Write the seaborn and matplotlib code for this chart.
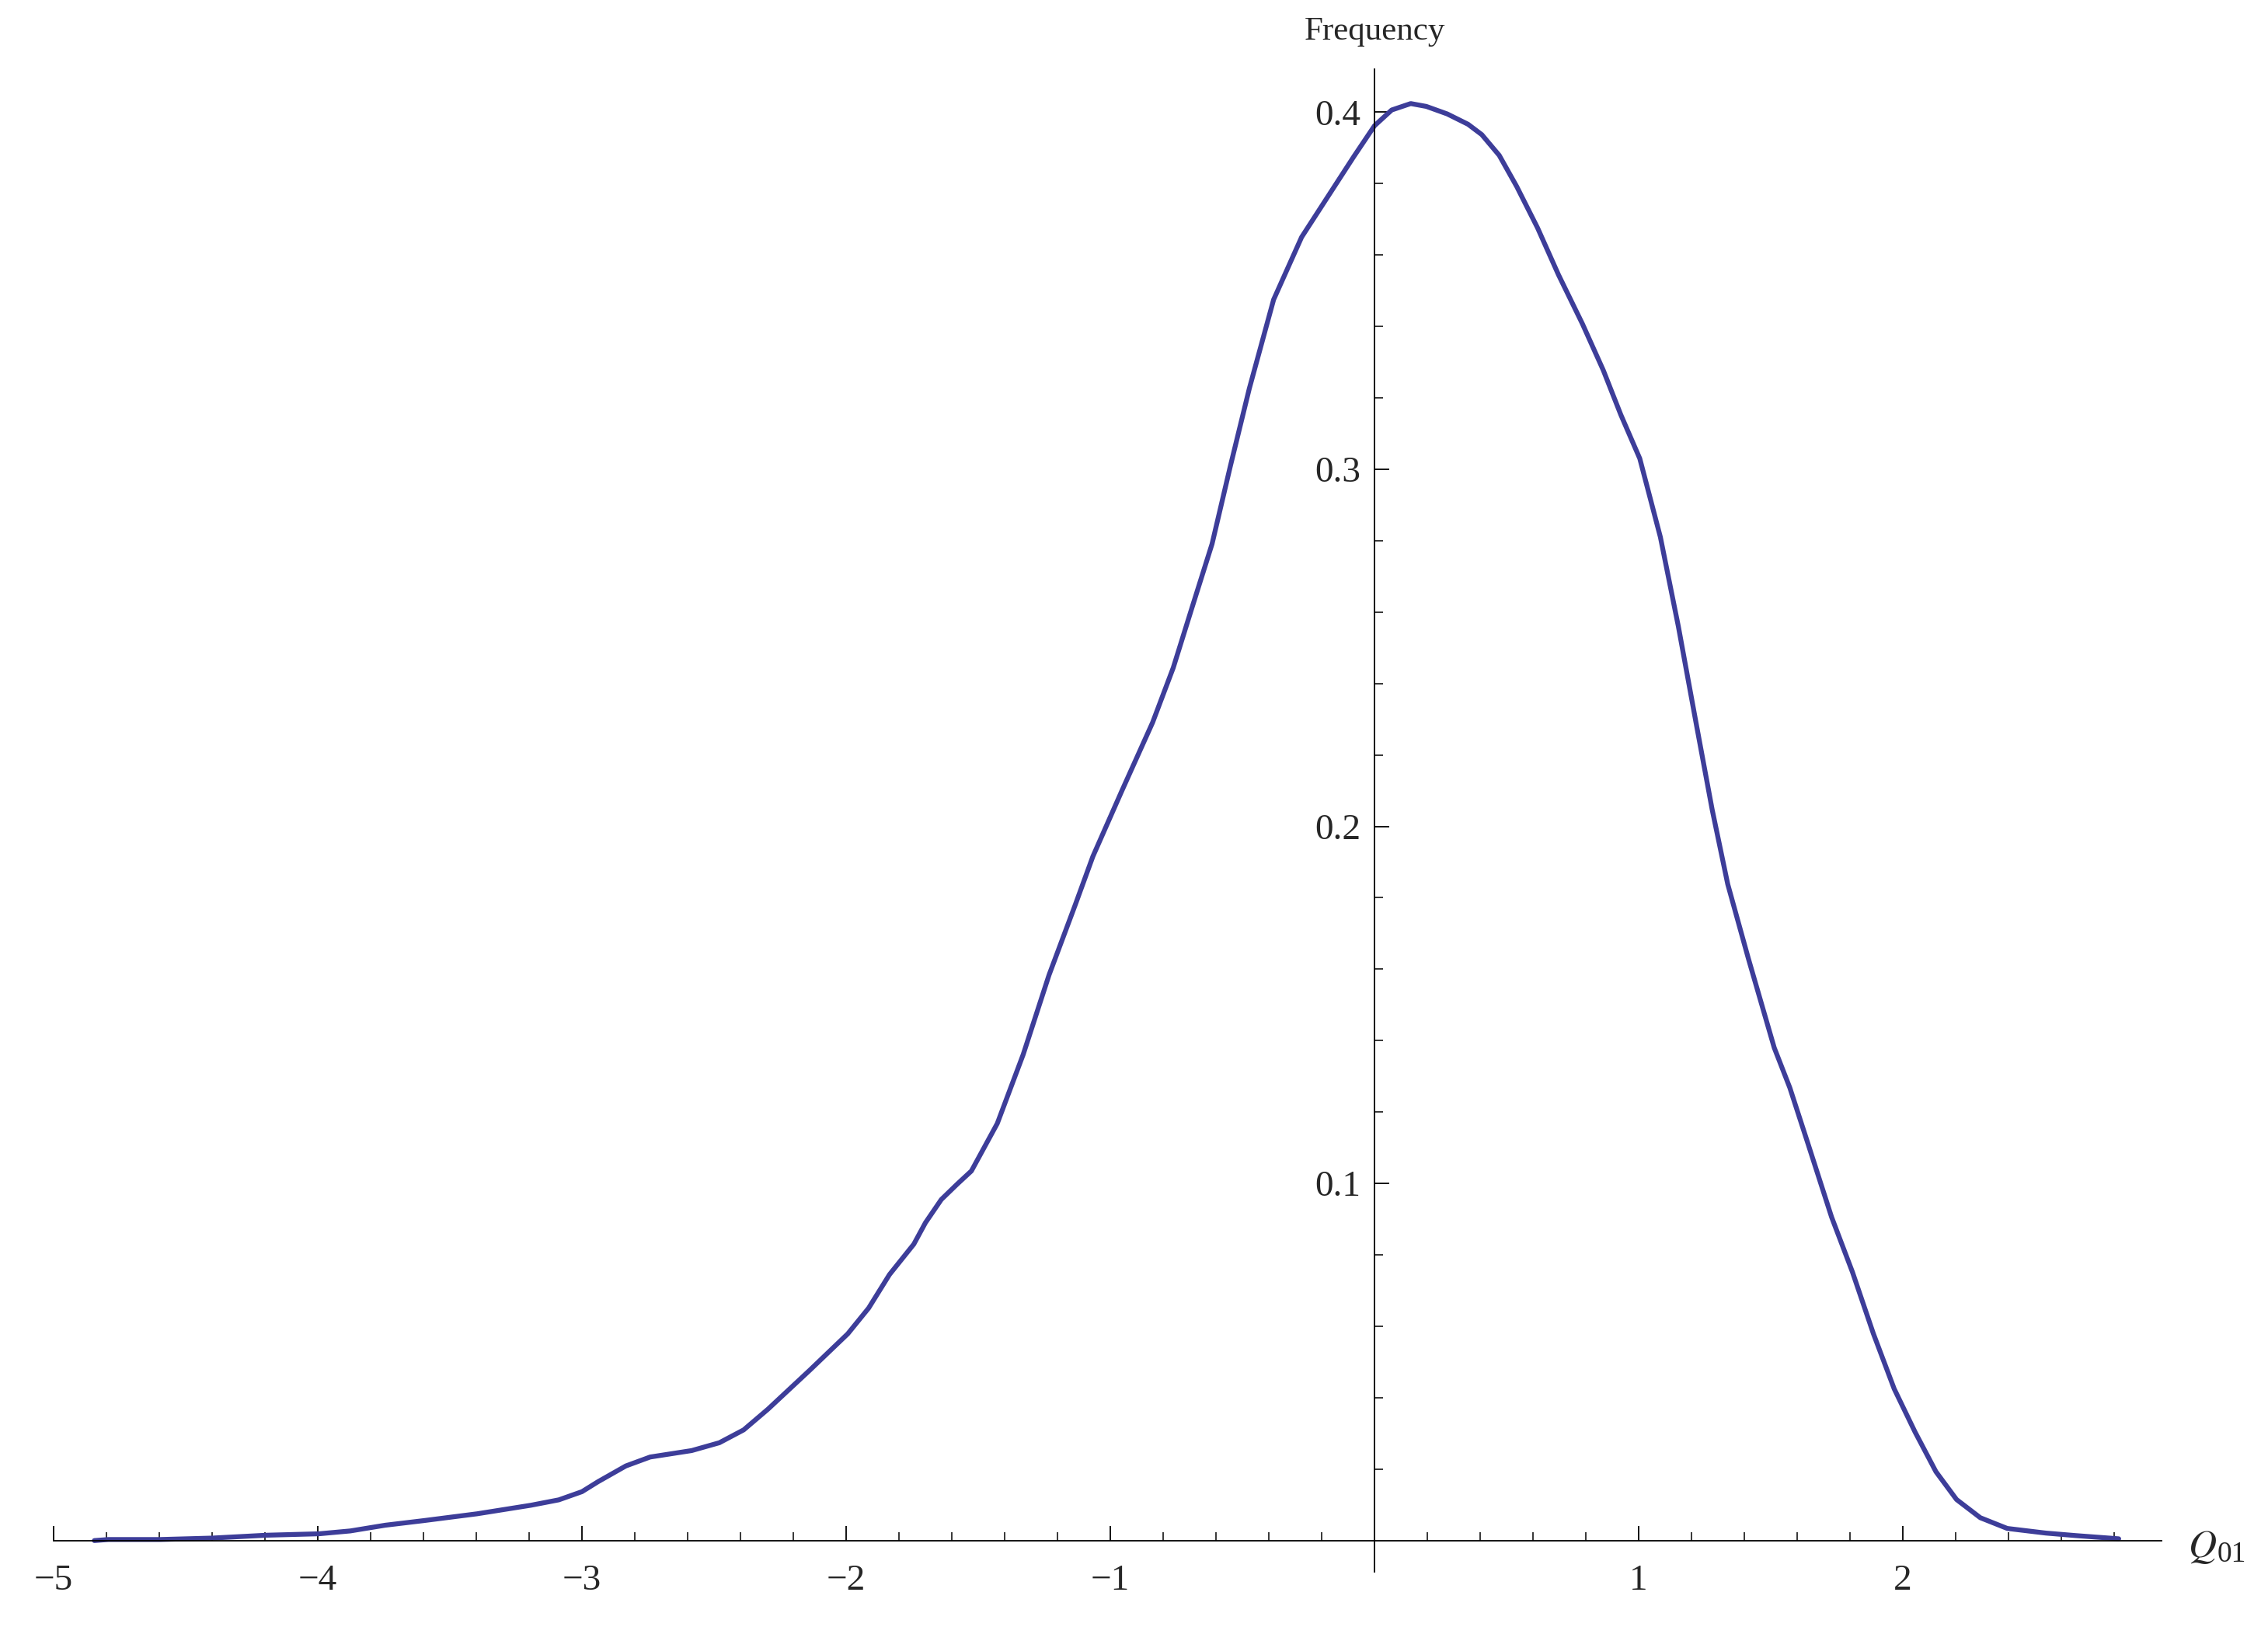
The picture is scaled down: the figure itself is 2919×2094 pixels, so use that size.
import numpy as np
import pandas as pd
import seaborn as sns
import matplotlib.pyplot as plt
from matplotlib.ticker import FixedLocator

# density curve
q01 = [-4.846, -4.793, -4.597, -4.400, -4.196, -3.996, -3.877, -3.745, -3.598, -3.397,
       -3.193, -3.088, -3.000, -2.939, -2.834, -2.742, -2.585, -2.480, -2.388, -2.296,
       -2.138, -1.994, -1.915, -1.836, -1.744, -1.700, -1.640, -1.580, -1.526, -1.428,
       -1.330, -1.232, -1.134, -1.066, -0.958, -0.840, -0.762, -0.692, -0.615, -0.546,
       -0.474, -0.382, -0.276, -0.171, -0.079, 0.000, 0.065, 0.137, 0.196, 0.275,
       0.354, 0.406, 0.472, 0.538, 0.617, 0.696, 0.787, 0.866, 0.932, 1.004,
       1.082, 1.150, 1.219, 1.278, 1.337, 1.415, 1.513, 1.572, 1.640, 1.730,
       1.809, 1.888, 1.967, 2.046, 2.125, 2.203, 2.293, 2.395, 2.541, 2.654,
       2.817]
freq = [0.0000, 0.0003, 0.0003, 0.0007, 0.0015, 0.0019, 0.0027, 0.0043, 0.0056, 0.0075,
        0.0099, 0.0114, 0.0137, 0.0165, 0.0209, 0.0234, 0.0252, 0.0274, 0.0310, 0.0368,
        0.0477, 0.0579, 0.0651, 0.0745, 0.0830, 0.0890, 0.0955, 0.0998, 0.1035, 0.1168,
        0.1361, 0.1584, 0.1778, 0.1916, 0.2097, 0.2291, 0.2444, 0.2610, 0.2791, 0.3008,
        0.3226, 0.3475, 0.3650, 0.3770, 0.3875, 0.3962, 0.4006, 0.4024, 0.4016, 0.3995,
        0.3966, 0.3937, 0.3879, 0.3792, 0.3676, 0.3545, 0.3407, 0.3277, 0.3153, 0.3030,
        0.2810, 0.2560, 0.2282, 0.2047, 0.1838, 0.1630, 0.1380, 0.1268, 0.1113, 0.0906,
        0.0752, 0.0580, 0.0425, 0.0304, 0.0193, 0.0115, 0.0064, 0.0034, 0.0021, 0.0014,
        0.0005]

x_major = [-5, -4, -3, -2, -1, 1, 2]
y_major = [0.1, 0.2, 0.3, 0.4]

# minor ticks every 0.2 / 0.02, only inside the drawn axis lines
x_minor = [round(v, 1) for v in np.arange(-4.8, 2.81, 0.2)
           if abs(v - round(v)) > 1e-6]
y_minor = [round(v, 2) for v in np.arange(0.02, 0.401, 0.02)
           if abs(v * 10 - round(v * 10)) > 1e-6]

df = pd.DataFrame({"Q01": q01, "Frequency": freq})

sns.set_style("white")
plt.rcParams["font.family"] = ["Liberation Serif", "DejaVu Serif"]

fig = plt.figure(figsize=(29.19, 20.94), dpi=100)
ax = fig.add_axes([0, 0, 1, 1])

sns.lineplot(data=df, x="Q01", y="Frequency", sort=False, estimator=None,
             color="#3d3d99", linewidth=4.5, ax=ax)
ax.lines[0].set_solid_joinstyle("round")
ax.lines[0].set_solid_capstyle("round")

ax.set_xlim(-5.203, 3.382)
ax.set_ylim(-0.0242, 0.4314)

for s in ["top", "right"]:
    ax.spines[s].set_visible(False)
ax.spines["left"].set_position(("data", 0))
ax.spines["bottom"].set_position(("data", 0))
ax.spines["left"].set_bounds(-0.0088, 0.412)
ax.spines["bottom"].set_bounds(-5.0, 2.98)
for s in ["left", "bottom"]:
    ax.spines[s].set_linewidth(1.3)
    ax.spines[s].set_color("black")

ax.xaxis.set_major_locator(FixedLocator(x_major))
ax.xaxis.set_minor_locator(FixedLocator(x_minor))
ax.yaxis.set_major_locator(FixedLocator(y_major))
ax.yaxis.set_minor_locator(FixedLocator(y_minor))
ax.set_xticklabels([str(v).replace("-", "\u2212") for v in x_major])
ax.set_yticklabels([f"{v:.1f}" for v in y_major])

ax.tick_params(axis="x", which="both", bottom=True, top=False)
ax.tick_params(axis="y", which="both", left=True, right=False)
ax.tick_params(axis="x", which="major", direction="in", length=14, width=1.3,
               pad=22, labelsize=34, color="black")
ax.tick_params(axis="x", which="minor", direction="in", length=8, width=1.1,
               color="black")
ax.tick_params(axis="y", which="major", direction="in", length=14, width=1.3,
               pad=13, labelsize=34, color="black")
ax.tick_params(axis="y", which="minor", direction="in", length=8, width=1.1,
               color="black")

ax.set_xlabel("")
ax.set_ylabel("")
ax.text(0, 0.4225, "Frequency", ha="center", va="center", fontsize=31)
ax.text(3.08, -0.002, r"$Q$", ha="left", va="center", fontsize=36,
        math_fontfamily="stix")
ax.text(3.19, -0.004, "01", ha="left", va="center", fontsize=27)

fig.savefig("out.png", dpi=100, facecolor="white")
